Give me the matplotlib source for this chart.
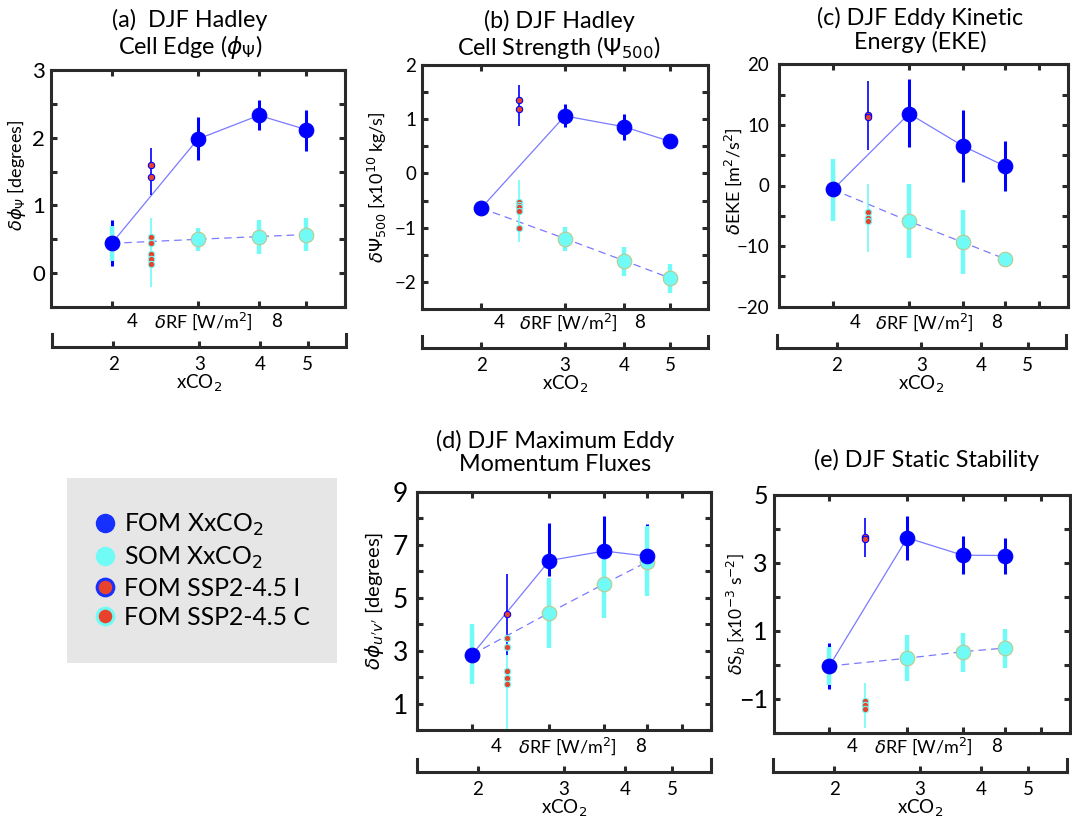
import matplotlib
matplotlib.use('Agg')
import matplotlib.pyplot as plt
from matplotlib.lines import Line2D
from matplotlib.ticker import MultipleLocator, FixedLocator, NullFormatter
from matplotlib.transforms import ScaledTranslation

plt.rcParams['font.family'] = ['Lato', 'DejaVu Sans']
plt.rcParams['mathtext.fontset'] = 'dejavusans'

# ---------------- data ----------------
xco2_tick_labels = ['2', '3', '4', '5']
rf_xco2 = [3.71, 5.88, 7.42, 8.61]                 # forcing of 2,3,4,5 x CO2 [W/m2]
rf_frame_ticks = [3.71, 5.88, 7.42, 8.61, 9.59, 10.41]  # 2..7 x CO2
rf_min = 2.17          # 1.5 x CO2
rf_max_short = 9.59    # 6 x CO2
rf_max_long = 10.41    # 7 x CO2
rf_ssp = 4.70          # SSP2-4.5 forcing
rf_tick_values = [4, 8]
rf_tick_labels = ['4', '8']

# (a) Hadley cell edge
a_fom = [0.44, 1.98, 2.33, 2.12]
a_fom_lo = [0.11, 1.67, 2.11, 1.81]
a_fom_hi = [0.78, 2.30, 2.56, 2.41]
a_som = [0.44, 0.50, 0.54, 0.57]
a_som_lo = [0.18, 0.33, 0.29, 0.33]
a_som_hi = [0.70, 0.66, 0.78, 0.81]
a_sspi = [1.59, 1.42]
a_sspi_range = [1.16, 1.85]
a_sspc = [0.54, 0.45, 0.28, 0.21, 0.13]
a_sspc_range = [-0.21, 0.82]

# (b) Hadley cell strength
b_fom = [-0.64, 1.06, 0.86, 0.59]
b_fom_lo = [-0.70, 0.85, 0.61, 0.53]
b_fom_hi = [-0.58, 1.28, 1.10, 0.65]
b_som = [-0.64, -1.20, -1.61, -1.93]
b_som_lo = [-0.70, -1.43, -1.89, -2.21]
b_som_hi = [-0.58, -0.99, -1.35, -1.67]
b_sspi = [1.35, 1.19]
b_sspi_range = [0.87, 1.63]
b_sspc = [-0.53, -0.58, -0.62, -0.69, -1.00]
b_sspc_range = [-1.27, -0.13]

# (c) Eddy kinetic energy
c_fom = [-0.66, 11.85, 6.5, 3.2]
c_fom_lo = [-4.5, 6.3, 0.6, -0.9]
c_fom_hi = [3.2, 17.5, 12.4, 7.3]
c_som = [-0.66, -5.9, -9.4, -12.1]
c_som_lo = [-5.9, -11.9, -14.6, -12.8]
c_som_hi = [4.3, 0.3, -4.1, -11.4]
c_sspi = [11.6, 11.3]
c_sspi_range = [5.9, 17.3]
c_sspc = [-4.4, -5.3, -5.8]
c_sspc_range = [-10.9, 0.3]

# (d) Maximum eddy momentum fluxes
d_fom = [2.85, 6.40, 6.76, 6.57]
d_fom_lo = [2.0, 5.80, 5.45, 5.40]
d_fom_hi = [3.7, 7.81, 8.08, 7.78]
d_som = [2.85, 4.43, 5.52, 6.34]
d_som_lo = [1.74, 3.11, 4.24, 5.07]
d_som_hi = [4.00, 5.73, 6.70, 7.72]
d_sspi = [4.37]
d_sspi_range = [2.85, 5.90]
d_sspc = [3.47, 3.15, 2.24, 1.98, 1.73]
d_sspc_range = [0.04, 3.60]

# (e) Static stability
e_fom = [-0.03, 3.74, 3.23, 3.22]
e_fom_lo = [-0.70, 3.08, 2.69, 2.69]
e_fom_hi = [0.65, 4.38, 3.79, 3.75]
e_som = [-0.03, 0.20, 0.39, 0.50]
e_som_lo = [-0.60, -0.48, -0.21, -0.08]
e_som_hi = [0.53, 0.89, 0.95, 1.07]
e_sspi = [3.77, 3.72]
e_sspi_range = [3.18, 4.33]
e_sspc = [-1.07, -1.17, -1.29]
e_sspc_range = [-1.86, -0.54]

legend_labels = ['FOM XxCO$_2$', 'SOM XxCO$_2$', 'FOM SSP2-4.5 I', 'FOM SSP2-4.5 C']

# ---------------- style ----------------
FOM_C = '#0000ff'
SOM_C = '#70fbf7'
SOM_EDGE = '#bcc98f'
RED = '#e8412c'
LINE_C = '#7a7aff'
FRAME = '#2a2a2a'

W, H = 1072, 823
fig = plt.figure(figsize=(W / 100, H / 100), dpi=100)


def px_rect(x0, y0, x1, y1):
    return [x0 / W, 1 - y1 / H, (x1 - x0) / W, (y1 - y0) / H]


panels = [
    dict(fom=a_fom, fom_lo=a_fom_lo, fom_hi=a_fom_hi, som=a_som, som_lo=a_som_lo, som_hi=a_som_hi,
         sspi=a_sspi, sspi_range=a_sspi_range, sspc=a_sspc, sspc_range=a_sspc_range,
         main=(50.7, 70, 345, 307), br=(52.3, 334, 346.5, 346.7), xmax=rf_max_short,
         ylim=(-0.5, 3), yticks=[0, 1, 2, 3], ystep=0.5, tfs=16, tpad=4,
         ylabel=r'$\delta\phi_\Psi$ [degrees]', yfs=13, ylx=28, yly=0.557,
         title='(a)  DJF Hadley\nCell Edge ($\\phi_\\Psi$)', ttop=8.5, tx=190),
    dict(fom=b_fom, fom_lo=b_fom_lo, fom_hi=b_fom_hi, som=b_som, som_lo=b_som_lo, som_hi=b_som_hi,
         sspi=b_sspi, sspi_range=b_sspi_range, sspc=b_sspc, sspc_range=b_sspc_range,
         main=(421.7, 65, 708, 309), br=(421.7, 335.5, 708, 348), xmax=rf_max_short,
         ylim=(-2.5, 2), yticks=[-2, -1, 0, 1, 2], ystep=0.5, tfs=13.5, tpad=4,
         ylabel=r'$\delta\Psi_{500}$ [x10$^{10}$ kg/s]', yfs=13, ylx=389, yly=0.5,
         title='(b) DJF Hadley\nCell Strength ($\\Psi_{500}$)', ttop=9.5, tx=559),
    dict(fom=c_fom, fom_lo=c_fom_lo, fom_hi=c_fom_hi, som=c_som, som_lo=c_som_lo, som_hi=c_som_hi,
         sspi=c_sspi, sspi_range=c_sspi_range, sspc=c_sspc, sspc_range=c_sspc_range,
         main=(779, 64.3, 1068, 306.7), br=(776.7, 335, 1066, 347.7), xmax=rf_max_long,
         ylim=(-20, 20), yticks=[-20, -10, 0, 10, 20], ystep=5, tfs=13.5, tpad=7,
         ylabel=r'$\delta$EKE [m$^2$/s$^2$]', yfs=13, ylx=744, yly=0.52,
         title='(c) DJF Eddy Kinetic\nEnergy (EKE)', ttop=7, tx=920),
    dict(fom=d_fom, fom_lo=d_fom_lo, fom_hi=d_fom_hi, som=d_som, som_lo=d_som_lo, som_hi=d_som_hi,
         sspi=d_sspi, sspi_range=d_sspi_range, sspc=d_sspc, sspc_range=d_sspc_range,
         main=(417.3, 491.7, 710.7, 730), br=(417, 759, 711, 771.7), xmax=rf_max_long,
         ylim=(0, 9), yticks=[1, 3, 5, 7, 9], ystep=1, tfs=19, tpad=6.5,
         ylabel=r"$\delta\phi_{u'v'}$ [degrees]", yfs=14.5, ylx=386, yly=0.54,
         title='(d) DJF Maximum Eddy\nMomentum Fluxes', ttop=430, tx=555),
    dict(fom=e_fom, fom_lo=e_fom_lo, fom_hi=e_fom_hi, som=e_som, som_lo=e_som_lo, som_hi=e_som_hi,
         sspi=e_sspi, sspi_range=e_sspi_range, sspc=e_sspc, sspc_range=e_sspc_range,
         main=(774, 495, 1070, 733), br=(773.3, 759.3, 1066.7, 771.7), xmax=rf_max_long,
         ylim=(-2, 5), yticks=[-1, 1, 3, 5], ystep=1, tfs=18, tpad=4.5,
         ylabel=r'$\delta$S$_b$ [x10$^{-3}$ s$^{-2}$]', yfs=12.5, ylx=748, yly=0.5,
         title='(e) DJF Static Stability', ttop=448.5, tx=926),
]

rf_label_dx_px = [7, -7]

for p in panels:
    x0, y0, x1, y1 = p['main']
    ax = fig.add_axes(px_rect(x0, y0, x1, y1))
    ax.set_xlim(rf_min, p['xmax'])
    ax.set_ylim(*p['ylim'])

    # connecting lines
    ax.plot(rf_xco2, p['fom'], '-', color=LINE_C, lw=0.9, zorder=2)
    ax.plot(rf_xco2, p['som'], '--', color=LINE_C, lw=0.9, dashes=(6, 4), zorder=2)
    # error bars
    ax.vlines(rf_xco2, p['fom_lo'], p['fom_hi'], color=FOM_C, lw=2.2, zorder=3)
    ax.vlines(rf_xco2, p['som_lo'], p['som_hi'], color=SOM_C, lw=3.2, zorder=3.1)
    ax.vlines([rf_ssp], [p['sspc_range'][0]], [p['sspc_range'][1]], color=SOM_C, lw=1.2, zorder=3.2)
    ax.vlines([rf_ssp], [p['sspi_range'][0]], [p['sspi_range'][1]], color=FOM_C, lw=1.2, zorder=3.3)
    # markers
    ax.plot(rf_xco2, p['som'], 'o', ls='none', ms=10.5, mfc=SOM_C, mec=SOM_EDGE, mew=0.8, zorder=4)
    ax.plot(rf_xco2, p['fom'], 'o', ls='none', ms=10.5, mfc=FOM_C, mec=FOM_C, mew=0.8, zorder=5)
    ax.plot([rf_ssp] * len(p['sspc']), p['sspc'], 'o', ls='none', ms=4.6, mfc=RED, mec=SOM_C,
            mew=0.8, zorder=6)
    ax.plot([rf_ssp] * len(p['sspi']), p['sspi'], 'o', ls='none', ms=4.6, mfc=RED, mec=FOM_C,
            mew=0.8, zorder=6)

    # frame and ticks
    for s in ax.spines.values():
        s.set_linewidth(2.2)
        s.set_color(FRAME)
    ax.xaxis.set_major_locator(FixedLocator(rf_frame_ticks))
    ax.xaxis.set_major_formatter(NullFormatter())
    ax.tick_params(axis='x', which='major', direction='in', top=True, bottom=True,
                   length=4, width=2.2, color=FRAME)
    ax.set_yticks(p['yticks'])
    ax.yaxis.set_minor_locator(MultipleLocator(p['ystep']))
    ax.tick_params(axis='y', which='both', direction='in', left=True, right=True,
                   length=4.5, width=2.2, color=FRAME, labelsize=p['tfs'], pad=p['tpad'])
    ax.set_ylabel(p['ylabel'], fontsize=p['yfs'])
    ax.yaxis.set_label_coords((p['ylx'] - x0) / (x1 - x0), p['yly'])

    # title
    ax.set_title(p['title'], fontsize=16.8, x=(p['tx'] - x0) / (x1 - x0),
                 y=1 + (y0 - p['ttop']) / (y1 - y0), va='top', linespacing=1.12, pad=0)

    # xCO2 bracket axis
    bx0, by0, bx1, by1 = p['br']
    axb = fig.add_axes(px_rect(bx0, by0, bx1, by1))
    axb.set_xlim(rf_min, rf_max_short)
    axb.patch.set_visible(False)
    axb.spines['top'].set_visible(False)
    for side in ['left', 'right', 'bottom']:
        axb.spines[side].set_linewidth(2.2)
        axb.spines[side].set_color(FRAME)
    axb.set_yticks([])
    axb.set_xticks(rf_xco2, xco2_tick_labels)
    axb.tick_params(axis='x', direction='in', length=4, width=2.2, color=FRAME,
                    pad=6.5, labelsize=13.5)
    axb.set_xlabel(r'xCO$_2$', fontsize=13.5, labelpad=0)

    # radiative forcing labels
    axr = axb.twiny()
    axr.set_xlim(rf_min, rf_max_short)
    for s in axr.spines.values():
        s.set_visible(False)
    axr.set_xticks(rf_tick_values, rf_tick_labels)
    axr.tick_params(axis='x', length=0, pad=3, labelsize=13.5)
    for lab, dx in zip(axr.get_xticklabels(), rf_label_dx_px):
        lab.set_transform(lab.get_transform() + ScaledTranslation(dx / 100, 0, fig.dpi_scale_trans))
    axr.set_xlabel(r'$\delta$RF [W/m$^2$]', fontsize=13)
    axr.xaxis.set_label_coords(0.512, 1 + 6.5 / (by1 - by0))

# legend box
axl = fig.add_axes(px_rect(67, 478, 337, 663))
axl.set_facecolor('#e6e6e6')
for s in axl.spines.values():
    s.set_visible(False)
axl.set_xticks([])
axl.set_yticks([])
handles = [
    Line2D([], [], ls='none', marker='o', ms=13, mfc='#1530ff', mec='#1530ff'),
    Line2D([], [], ls='none', marker='o', ms=13, mfc=SOM_C, mec=SOM_C),
    Line2D([], [], ls='none', marker='o', ms=12, mfc=RED, mec='#1530ff', mew=2.2),
    Line2D([], [], ls='none', marker='o', ms=12, mfc=RED, mec=SOM_C, mew=2.2),
]
axl.legend(handles, legend_labels, loc='center', frameon=False, fontsize=17.8,
           handlelength=0.9, handletextpad=0.3, labelspacing=0.25)

fig.savefig('out.png', dpi=100)
